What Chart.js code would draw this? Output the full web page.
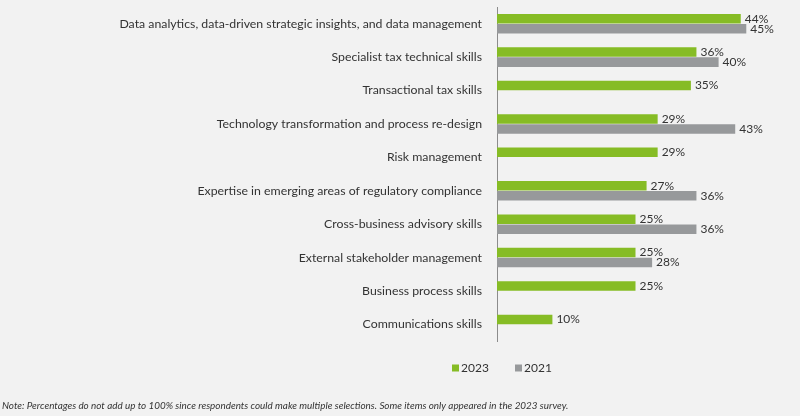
<!DOCTYPE html>
<html>
<head>
<meta charset="utf-8">
<script src="https://cdn.jsdelivr.net/npm/chart.js@4/dist/chart.umd.min.js"></script>
<style>
  html, body { margin: 0; padding: 0; background: #f2f2f2; }
  #wrap { width: 800px; height: 416px; }
</style>
</head>
<body>
<div id="wrap"><canvas id="skills-chart"></canvas></div>
<script>
// Tax skills survey - horizontal grouped bars

var skills = [
  'Data analytics, data-driven strategic insights, and data management',
  'Specialist tax technical skills',
  'Transactional tax skills',
  'Technology transformation and process re-design',
  'Risk management',
  'Expertise in emerging areas of regulatory compliance',
  'Cross-business advisory skills',
  'External stakeholder management',
  'Business process skills',
  'Communications skills'
];
var values2023 = [44, 36, 35, 29, 29, 27, 25, 25, 25, 10];
var values2021 = [45, 40, null, 43, null, 36, 36, 28, null, null];
var seriesNames = ['2023', '2021'];
var noteText = 'Note: Percentages do not add up to 100% since respondents could make multiple selections. Some items only appeared in the 2023 survey.';

var labelFont = '"Lato", "Open Sans", sans-serif';

// value labels at the end of each bar
var barLabels = {
  id: 'barLabels',
  afterDatasetsDraw: function(chart) {
    var ctx = chart.ctx;
    ctx.save();
    ctx.font = '12px ' + labelFont;
    ctx.fillStyle = '#333333';
    ctx.textAlign = 'left';
    ctx.textBaseline = 'middle';
    chart.data.datasets.forEach(function(ds, i) {
      chart.getDatasetMeta(i).data.forEach(function(bar, j) {
        if (ds.data[j] == null) return;
        ctx.fillText(ds.data[j] + '%', bar.x + 4, bar.y);
      });
    });
    ctx.restore();
  }
};

// legend sits under the axis, not centred on the canvas
var bottomLegend = {
  id: 'bottomLegend',
  afterDraw: function(chart) {
    var ctx = chart.ctx;
    var x = 452, y = 368;
    ctx.save();
    ctx.font = '12px ' + labelFont;
    ctx.textBaseline = 'middle';
    chart.data.datasets.forEach(function(ds) {
      ctx.fillStyle = ds.backgroundColor;
      ctx.fillRect(x, y - 3.5, 7, 7);
      ctx.fillStyle = '#333333';
      ctx.fillText(ds.label, x + 9, y);
      x += 63;
    });
    ctx.restore();
  }
};

var ctx = document.getElementById('skills-chart').getContext('2d');
var myChart = new Chart(ctx, {
  type: 'bar',
  data: {
    labels: skills,
    datasets: [{
      label: seriesNames[0],
      data: values2023,
      backgroundColor: '#86bc25'
    }, {
      label: seriesNames[1],
      data: values2021,
      backgroundColor: '#97999b'
    }]
  },
  options: {
    indexAxis: 'y',
    responsive: true,
    maintainAspectRatio: false,
    animation: false,
    layout: { padding: { left: 2, right: 26, top: 7, bottom: 0 } },
    datasets: {
      bar: { categoryPercentage: 0.6, barPercentage: 0.95 }
    },
    scales: {
      x: {
        display: false,
        min: 0,
        max: 50
      },
      y: {
        grid: { display: false },
        border: { display: true, color: '#8c8c8c', width: 1 },
        ticks: {
          color: '#333333',
          padding: 7,
          font: { family: labelFont, size: 12.3 }
        },
        afterFit: function(scale) {
          scale.width = 495;
          scale.paddingTop = 0;
          scale.paddingBottom = 0;
        }
      }
    },
    plugins: {
      legend: { display: false },
      tooltip: { enabled: false },
      title: {
        display: true,
        position: 'bottom',
        align: 'start',
        text: noteText,
        color: '#333333',
        font: { family: labelFont, size: 9.9, style: 'italic', weight: 'normal' },
        padding: { top: 59, bottom: 4 }
      }
    }
  },
  plugins: [barLabels, bottomLegend]
});
</script>
</body>
</html>
